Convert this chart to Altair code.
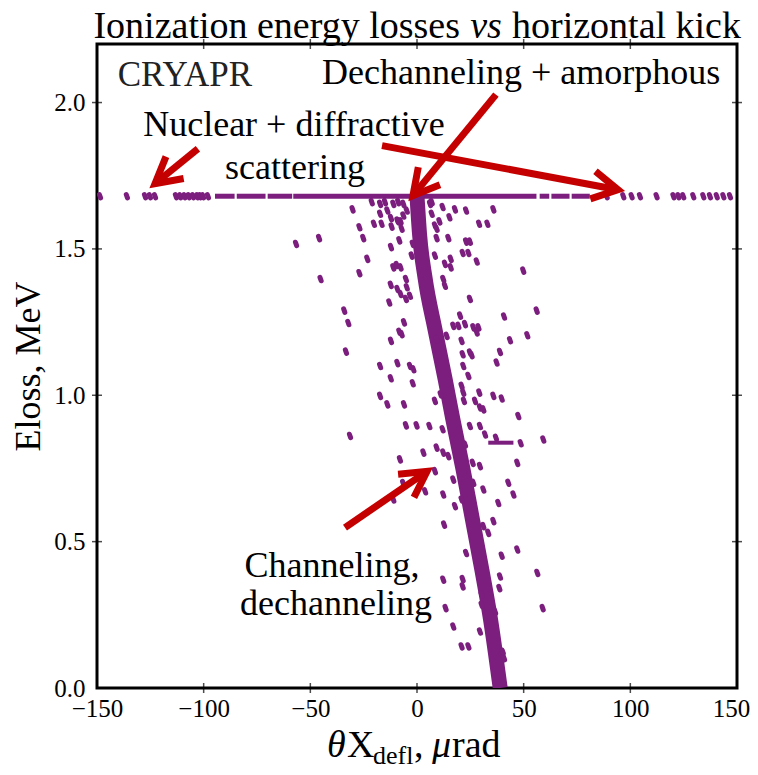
import math
import altair as alt
import pandas as pd

PURPLE = "#7b1e7e"
RED = "#c40000"
FONT = "Liberation Serif"

W, H = 640, 644
XMIN, XMAX = -150, 150
YMIN, YMAX = 0.0, 2.2

# ---- data ----
# channeling stripe centre line (x in urad, Eloss in MeV)
stripe_x = [0.0, 1.2, 3.8, 8.4, 13.2, 16.8, 21.5, 26.0, 30.5, 34.5, 39.0]
stripe_y = [1.68, 1.55, 1.4, 1.226, 1.055, 0.918, 0.75, 0.575, 0.4, 0.233, 0.0]

# amorphous band (continuous parts)
band_level = 1.68
band_start = [-94.7, -84.5, -70.0, -58.0, 57.5, 63.0, 72.5]
band_end = [-85.5, -71.0, -58.5, 56.0, 62.0, 71.5, 81.0]
# isolated events on the band
band_dots = [-148.6, -136.0, -127.5, -125.2, -122.8, -113.0, -111.0, -109.0, -107.0,
             -105.0, -103.0, -101.7, -100.3, -98.0, 88.9, 96.7, 100.6, 104.5, 112.3,
             120.2, 122.5, 124.8, 129.5, 134.2, 137.3, 140.5, 143.6, 146.7]

# dechanneled / scattered events
scatter_x = [
    -21.2, -17.3, -15.0, -11.1, -8.8, -6.4, 6.1, 6.9,
    -30.2, -17.3, -13.9, -12.2, -9.2, -7.7, -6.4, -4.8, 6.9, 9.2, 12.0, 15.2, 17.8, 23.0, 35.8,
    -27.0, -20.2, -16.6, -11.9, -7.2, -8.8, 8.4, 10.5, 29.1, 33.0,
    -56.7, -45.9, -25.2, -8.3, -12.2, 9.2, 14.7, 23.0, 24.8, -2.0,
    -23.3, -11.1, -9.5, -7.7, -2.5, 8.4, 13.1, 15.8, 21.4, 24.1, 28.0, 15.8,
    -45.2, -27.0, -12.3, -5.2, -9.2, -4.8, 12.3, 13.1, 49.8,
    -13.0, -7.7, -5.2, -3.3, 24.8, 56.1, 40.8,
    -34.1, -32.2, -6.1, 20.2, 19.4, 22.5, 26.4, 28.8, 17.0,
    -12.2, -8.3, -7.2, 9.2, 13.9, 20.9, 21.4, 24.8, 25.6, 28.0, 38.9, 43.6, 51.7,
    -33.3, -17.3, -9.2, -3.3, -1.7, 21.7, 24.1, 37.3,
    -12.3, -17.3, -13.9, -6.1, -2.0, 8.4, 11.1, 20.9, 21.7, 22.0, 29.2, 35.8, 39.7, 27.2, 29.5, 31.1,
    -5.2, -0.2, 5.8, 29.5, 47.5,
    12.0, 24.8, 31.9, -31.4, 3.0, -8.0, 9.2, 12.3, 14.7, 22.5, 26.1, 29.5, 37.0, 48.6, 59.2, 47.0,
    8.4, 3.8, -11.1, 17.0, 20.9, 17.8, 26.4, 31.1, 38.1, 42.8, 45.2, 31.1, 35.8, 33.4, 12.3, 12.7, -6.5,
    23.0, 47.0, 39.7, 12.3, 21.4, 21.4, 38.6, 38.9, 56.4, 13.4, 17.0, 20.9, 24.1, 29.5, 30.3, 30.3,
    36.6, 40.8, 58.9, 40.2,
]
scatter_y = [
    1.660, 1.654, 1.660, 1.654, 1.660, 1.654, 1.654, 1.660,
    1.635, 1.620, 1.631, 1.605, 1.597, 1.594, 1.614, 1.631, 1.620, 1.569, 1.643, 1.608, 1.635, 1.631, 1.635,
    1.574, 1.586, 1.586, 1.576, 1.569, 1.594, 1.580, 1.594, 1.586, 1.586,
    1.517, 1.537, 1.537, 1.529, 1.506, 1.537, 1.537, 1.525, 1.525, 1.517,
    1.466, 1.437, 1.445, 1.437, 1.477, 1.477, 1.449, 1.437, 1.486, 1.486, 1.457, 1.466,
    1.397, 1.417, 1.377, 1.397, 1.363, 1.369, 1.397, 1.374, 1.426,
    1.317, 1.346, 1.329, 1.340, 1.329, 1.289, 1.269,
    1.289, 1.247, 1.249, 1.272, 1.237, 1.243, 1.232, 1.232, 1.237,
    1.186, 1.217, 1.209, 1.192, 1.203, 1.186, 1.140, 1.146, 1.137, 1.215, 1.148, 1.188, 1.205,
    1.149, 1.100, 1.110, 1.100, 1.089, 1.100, 1.066, 1.112,
    1.058, 0.998, 0.969, 0.969, 1.041, 0.981, 1.003, 1.032, 1.009, 0.981, 1.009, 0.998, 0.989, 0.981, 0.958, 0.952,
    0.897, 0.897, 0.895, 0.895, 0.929,
    0.884, 0.895, 0.866, 0.861, 0.804, 0.781, 0.821, 0.804, 0.792, 0.832, 0.769, 0.758, 0.855, 0.836, 0.849, 0.769,
    0.741, 0.672, 0.644, 0.712, 0.644, 0.621, 0.701, 0.678, 0.632, 0.701, 0.661, 0.553, 0.570, 0.530, 0.661, 0.558, 0.700,
    0.461, 0.473, 0.452, 0.370, 0.372, 0.347, 0.341, 0.381, 0.393, 0.273, 0.210, 0.142, 0.142, 0.193, 0.319, 0.284,
    0.261, 0.102, 0.273, 0.124,
]

# short horizontal feature
dash_x = [33.4]
dash_x2 = [45.2]
dash_y = [0.838]

# arrows (tail -> head) in data units
arrow_tx = [-102.7, -16.4, 37.0, -33.75]
arrow_ty = [1.842, 1.853, 2.027, 0.548]
arrow_hx = [-122.8, 94.2, -1.9, 4.7]
arrow_hy = [1.723, 1.702, 1.682, 0.740]

# annotation texts (x centre, baseline y)
label_text = ["Dechanneling + amorphous", "Nuclear + diffractive", "scattering",
              "Channeling,", "dechanneling"]
label_x = [48.8, -57.7, -57.2, -39.8, -38.0]
label_y = [2.062, 1.887, 1.740, 0.380, 0.250]
tag_text = ["CRYAPR"]
tag_x = [-108.8]
tag_y = [2.055]

x_ticks = [-150, -100, -50, 0, 50, 100, 150]
y_ticks = [0.0, 0.5, 1.0, 1.5, 2.0]
x_inner = [-100, -50, 0, 50, 100]
y_inner = [0.5, 1.0, 1.5, 2.0]

# ---- tables ----
stripe_df = pd.DataFrame({"x": stripe_x, "y": stripe_y, "o": list(range(len(stripe_x)))})
band_df = pd.DataFrame({"x": band_start, "x2": band_end, "y": [band_level] * len(band_start)})
pts_df = pd.DataFrame({"x": scatter_x + band_dots,
                       "y": scatter_y + [band_level] * len(band_dots)})
dash_df = pd.DataFrame({"x": dash_x, "x2": dash_x2, "y": dash_y})
sx = W / (XMAX - XMIN)
sy = H / (YMAX - YMIN)
angles = [math.degrees(math.atan2(-(hy - ty) * sy, (hx - tx) * sx)) % 360
          for tx, ty, hx, hy in zip(arrow_tx, arrow_ty, arrow_hx, arrow_hy)]
arrow_df = pd.DataFrame({"x": arrow_tx, "y": arrow_ty, "x2": arrow_hx, "y2": arrow_hy, "ang": angles})
label_df = pd.DataFrame({"x": label_x, "y": label_y, "t": label_text})
tag_df = pd.DataFrame({"x": tag_x, "y": tag_y, "t": tag_text})
xin_df = pd.DataFrame({"x": x_inner})
yin_df = pd.DataFrame({"y": y_inner})

xscale = alt.Scale(domain=[XMIN, XMAX], nice=False)
yscale = alt.Scale(domain=[YMIN, YMAX], nice=False, zero=False)
xaxis = alt.Axis(values=x_ticks, format="d", title=None, labelPadding=8, labelFlush=False,
                 labelOverlap=False,
                 labelOffset={"condition": {"test": "datum.value == 150", "value": -6},
                              "value": 0})
yaxis = alt.Axis(values=y_ticks, format=".1f", title="Eloss, MeV", labelPadding=12,
                 labelFlush=False, labelOverlap=False, titlePadding=6)


def X(f="x"):
    return alt.X(f"{f}:Q", scale=xscale, axis=xaxis)


def Y(f="y"):
    return alt.Y(f"{f}:Q", scale=yscale, axis=yaxis)


stripe = alt.Chart(stripe_df).mark_line(color=PURPLE, strokeWidth=15, strokeCap="butt",
                                         interpolate="monotone", clip=True).encode(
    x=X(), y=Y(), order="o:Q")
band = alt.Chart(band_df).mark_rule(color=PURPLE, strokeWidth=5).encode(x=X(), x2="x2:Q", y=Y())
pts = alt.Chart(pts_df).mark_point(shape="M -0.35 -1 L 0.35 1", filled=False, size=12,
                                   strokeWidth=5, strokeCap="round", color=PURPLE,
                                   opacity=1, clip=True).encode(x=X(), y=Y())
dash = alt.Chart(dash_df).mark_rule(color=PURPLE, strokeWidth=4).encode(x=X(), x2="x2:Q", y=Y())

shaft = alt.Chart(arrow_df).mark_rule(color=RED, strokeWidth=7).encode(
    x=X(), y=Y(), x2="x2:Q", y2="y2:Q")
heads = alt.Chart(arrow_df).mark_point(shape="M -1 -0.55 L 0 0 L -1 0.55", filled=False,
                                       size=2600, strokeWidth=7, color=RED, opacity=1,
                                       strokeJoin="miter").encode(
    x=X("x2"), y=Y("y2"), angle=alt.Angle("ang:Q", scale=None))

labels = alt.Chart(label_df).mark_text(font=FONT, fontSize=36, color="black", align="center",
                                       baseline="alphabetic").encode(x=X(), y=Y(), text="t:N")
tag = alt.Chart(tag_df).mark_text(font=FONT, fontSize=35, color="#222222", align="center",
                                  baseline="alphabetic").encode(x=X(), y=Y(), text="t:N")

tick_b = alt.Chart(xin_df).mark_tick(color="black", size=10, thickness=1.5).encode(
    x=X(), y=alt.value(H))
tick_t = alt.Chart(xin_df).mark_tick(color="black", size=10, thickness=1.5).encode(
    x=X(), y=alt.value(0))
tick_l = alt.Chart(yin_df).mark_tick(color="black", size=10, thickness=1.5).encode(
    y=Y(), x=alt.value(0))
tick_r = alt.Chart(yin_df).mark_tick(color="black", size=10, thickness=1.5).encode(
    y=Y(), x=alt.value(W))

one = pd.DataFrame({"a": [0]})


def txt(s, xpx, ypx, size=38, align="left", style="normal"):
    return alt.Chart(one).mark_text(text=s, font=FONT, fontSize=size, align=align,
                                    baseline="alphabetic", fontStyle=style,
                                    color="black").encode(x=alt.value(xpx), y=alt.value(ypx))


title_parts = [
    txt("Ionization energy losses", 363, -6, align="right"),
    txt("vs", 389, -6, align="center", style="italic"),
    txt("horizontal kick", 415, -6, align="left"),
]
xtitle_parts = [
    txt("\u03b8", 230, 713, size=38, style="italic"),
    txt("X", 250, 713, size=38),
    txt("defl", 276, 720, size=26),
    txt(",", 317, 713, size=38),
    txt("\u03bc", 335, 713, size=38, style="italic"),
    txt("rad", 355, 713, size=38),
]

chart = alt.layer(
    band, stripe, pts, dash, shaft, heads, labels, tag, tick_b, tick_t, tick_l, tick_r,
    *title_parts, *xtitle_parts
).properties(
    width=W, height=H,
    background="white",
    autosize=alt.AutoSizeParams(type="none"),
    padding={"left": 89, "top": 36, "right": 13, "bottom": 76},
).configure_view(
    stroke="black", strokeWidth=3
).configure_axis(
    labelFont=FONT, labelFontSize=25, labelColor="black", ticks=False, domain=False,
    grid=False, titleFont=FONT, titleFontSize=36, titleFontWeight="normal", titleColor="black"
)

chart.save("out.html", embed_options={"renderer": "svg", "actions": False})
